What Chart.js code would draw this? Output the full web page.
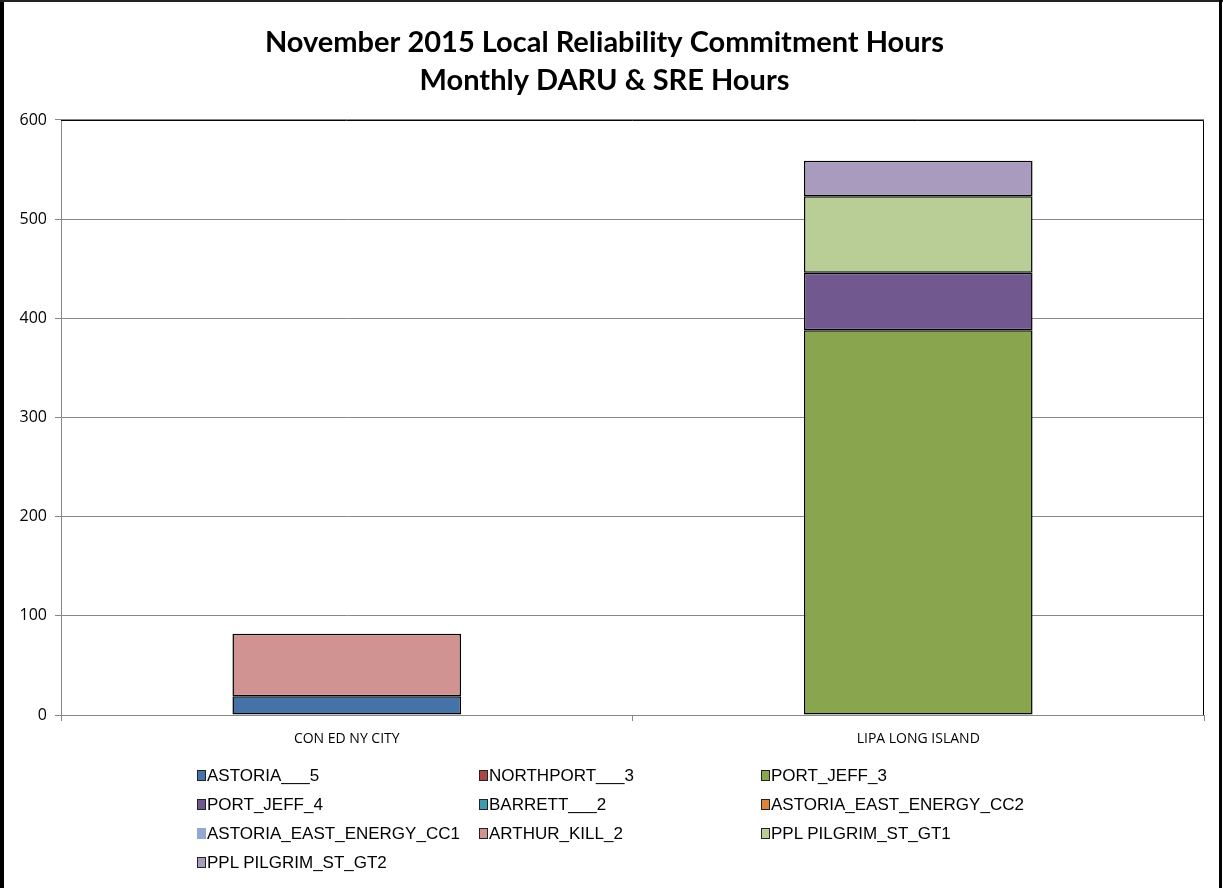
<!DOCTYPE html>
<html>
<head>
<meta charset="utf-8">
<script src="https://cdn.jsdelivr.net/npm/chart.js@4.4.0/dist/chart.umd.min.js"></script>
<style>
  html, body { margin: 0; padding: 0; background: #fff; }
  #frame { position: relative; width: 1223px; height: 888px; overflow: hidden; }
  #chart-box { position: absolute; left: 0; top: 0; width: 1223px; height: 888px; }
  .edge { position: absolute; background: #000; }
  #legend {
    position: absolute; left: 197px; top: 765px;
    display: grid; grid-template-columns: 282px 282px 300px; row-gap: 8px;
    font-family: "Liberation Sans", Arial, sans-serif; font-size: 17px; color: #000;
  }
  .item { display: flex; align-items: center; height: 21px; white-space: nowrap; }
  .swatch { width: 7px; height: 9px; border: 1px solid #222; margin-right: 1px; }
</style>
</head>
<body>
<div id="frame">
  <div id="chart-box"><canvas id="chart"></canvas></div>
  <div id="legend"></div>
  <div class="edge" style="left:0;top:0;width:4px;height:888px"></div>
  <div class="edge" style="left:0;top:0;width:1223px;height:2px;background:#222"></div>
  <div class="edge" style="left:1219px;top:0;width:3px;height:888px"></div>
</div>
<script>
const categories = ["CON ED NY CITY", "LIPA LONG ISLAND"];
const seriesNames = [
  "ASTORIA___5", "NORTHPORT___3", "PORT_JEFF_3", "PORT_JEFF_4", "BARRETT___2",
  "ASTORIA_EAST_ENERGY_CC2", "ASTORIA_EAST_ENERGY_CC1", "ARTHUR_KILL_2",
  "PPL PILGRIM_ST_GT1", "PPL PILGRIM_ST_GT2"
];
const astoria5 = [19, 0];
const northport3 = [0, 0];
const portJeff3 = [0, 388];
const portJeff4 = [0, 58];
const barrett2 = [0, 0];
const astoriaEastCC2 = [0, 0];
const astoriaEastCC1 = [0, 0];
const arthurKill2 = [63, 0];
const pilgrimGT1 = [0, 77];
const pilgrimGT2 = [0, 36];
const seriesValues = [astoria5, northport3, portJeff3, portJeff4, barrett2,
  astoriaEastCC2, astoriaEastCC1, arthurKill2, pilgrimGT1, pilgrimGT2];
const colors = ["#4572A7", "#AA4643", "#89A54E", "#71588F", "#4198AF",
  "#DB843D", "#93A9CF", "#D19392", "#B9CD96", "#A99BBD"];
const yTicks = [0, 100, 200, 300, 400, 500, 600];

const datasets = seriesNames.map((name, i) => ({
  label: name,
  data: seriesValues[i],
  backgroundColor: colors[i],
  borderColor: "#000",
  borderWidth: 1.5,
  borderSkipped: false,
  categoryPercentage: 1.0,
  barPercentage: 0.4
}));

// plot frame: dark top and right edges
const plotFrame = {
  id: "plotFrame",
  afterDraw(chart) {
    const a = chart.chartArea, ctx = chart.ctx;
    ctx.save();
    ctx.strokeStyle = "#000";
    ctx.lineWidth = 1;
    ctx.beginPath();
    ctx.moveTo(a.left, a.top + 0.5);
    ctx.lineTo(a.right - 0.5, a.top + 0.5);
    ctx.lineTo(a.right - 0.5, a.bottom);
    ctx.stroke();
    ctx.restore();
  }
};

new Chart(document.getElementById("chart"), {
  type: "bar",
  data: { labels: categories, datasets: datasets },
  plugins: [plotFrame],
  options: {
    responsive: true,
    maintainAspectRatio: false,
    animation: false,
    layout: { padding: { left: 5, right: 19, top: 0, bottom: 133 } },
    plugins: {
      legend: { display: false },
      tooltip: { enabled: false },
      title: {
        display: true,
        text: ["November 2015 Local Reliability Commitment Hours", "Monthly DARU & SRE Hours"],
        color: "#000",
        font: { family: "Lato", size: 29, weight: "bold", lineHeight: 1.31 },
        padding: { top: 24, bottom: 20 }
      }
    },
    scales: {
      x: {
        stacked: true,
        grid: { drawOnChartArea: false, drawTicks: true, tickLength: 6, color: "#888" },
        border: { color: "#888" },
        ticks: { color: "#000", font: { family: "Open Sans", size: 14 }, padding: 10 },
        afterFit(scale) { scale.height = 40; }
      },
      y: {
        stacked: true,
        min: 0,
        max: 600,
        afterBuildTicks(scale) { scale.ticks = yTicks.map(v => ({ value: v })); },
        grid: { color: "#888", tickLength: 6 },
        border: { color: "#888" },
        ticks: { color: "#000", font: { family: "Open Sans", size: 16 }, padding: 8 },
        afterFit(scale) { scale.width = 56; }
      }
    }
  }
});

const legendEl = document.getElementById("legend");
seriesNames.forEach((name, i) => {
  const item = document.createElement("div");
  item.className = "item";
  const sw = document.createElement("span");
  sw.className = "swatch";
  sw.style.background = colors[i];
  if (name === "ASTORIA_EAST_ENERGY_CC1") sw.style.borderColor = colors[i];
  const txt = document.createElement("span");
  txt.textContent = name;
  item.append(sw, txt);
  legendEl.append(item);
});
</script>
</body>
</html>
